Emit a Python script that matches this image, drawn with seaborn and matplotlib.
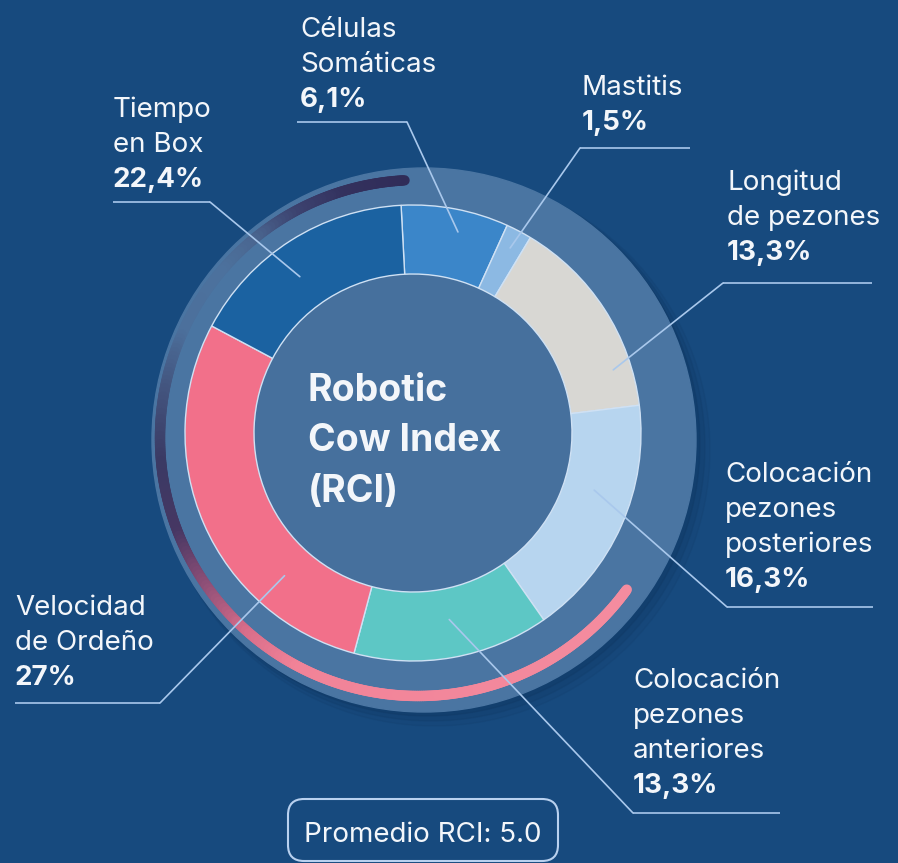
import numpy as np
import matplotlib
matplotlib.use('Agg')
import matplotlib.pyplot as plt
import seaborn as sns
from matplotlib.patches import Circle, FancyBboxPatch
from matplotlib.collections import LineCollection
from matplotlib.colors import LinearSegmentedColormap

# data
categories = ['Células\nSomáticas', 'Mastitis', 'Longitud\nde pezones',
              'Colocación\npezones\nposteriores', 'Colocación\npezones\nanteriores',
              'Velocidad\nde Ordeño', 'Tiempo\nen Box']
pct_values = [6.1, 1.5, 13.3, 16.3, 13.3, 27.0, 22.4]
# ring slices as they are drawn in the picture (degrees of arc)
drawn_share = [27.4, 6.6, 52, 62, 50, 103, 59]
ring_colors = ['#3b86c9', '#8cb9e3', '#d8d7d3', '#b7d5ef', '#5dc7c5', '#f2708a', '#1b62a1']
center_title = ['Robotic', 'Cow Index', '(RCI)']
promedio_rci = 5.0

sns.set_style('white')
plt.rcParams['font.family'] = ['Inter', 'DejaVu Sans']

W, H = 898, 863
BG = '#174a7e'
TXT = '#f3f6fa'
LEAD = '#a9c8ec'

fig = plt.figure(figsize=(W / 100, H / 100), dpi=100, facecolor=BG)
ax = fig.add_axes([0, 0, 1, 1])
ax.set_facecolor(BG)

def py(y):
    return H - y

cx, cy = 413, py(433)

# outer disk + soft shadow
for off, rr, al in [(10, 276, 0.12), (7, 274, 0.18), (4, 272, 0.25)]:
    ax.add_patch(Circle((424 + off, py(440 + off)), rr, color='#0f355e', alpha=al, zorder=1))
ax.add_patch(Circle((424, py(440)), 272, color='#4a75a2', zorder=1))

# gradient arc (dark at the top, pink at the bottom)
stops = [(0.0, '#302c58'), (0.06, '#33315e'), (0.11, '#3c426f'), (0.16, '#4a6690'),
         (0.20, '#4c719d'), (0.27, '#4c709c'), (0.33, '#43557f'), (0.40, '#3a3a64'),
         (0.47, '#463763'), (0.53, '#8e4f77'), (0.59, '#d86d8a'), (0.65, '#f18398'),
         (1.0, '#f48c9f')]
arc_cmap = LinearSegmentedColormap.from_list('arc', stops)
th = np.radians(np.linspace(93, 324, 500))
arc_x, arc_y = 418 + 258 * np.cos(th), py(438) + 258 * np.sin(th)
pts = np.column_stack([arc_x, arc_y]).reshape(-1, 1, 2)
segs = np.concatenate([pts[:-1], pts[1:]], axis=1)
lc = LineCollection(segs, colors=arc_cmap(np.linspace(0, 1, len(segs))),
                    linewidths=7.5, capstyle='round', zorder=2)
ax.add_collection(lc)

# inner circle
ax.add_patch(Circle((cx, cy), 159, color='#46709d', zorder=2))

# ring
ax.pie(drawn_share, radius=228, center=(cx, cy), startangle=93, counterclock=False,
       colors=ring_colors, frame=True,
       wedgeprops=dict(width=69, edgecolor='#cfe1f4', linewidth=1.0, zorder=3))

# label layout: text left, first baseline, horizontal line span & y, elbow x, anchor angle/radius
layout = [
    (300, 37, 297, 407, 122, 407, 77.4, 206),
    (582, 95, 580, 690, 148, 580, 62.3, 209),
    (727, 190, 723, 872, 283, 723, 17.5, 210),
    (725, 482, 727, 873, 607, 727, -17.5, 190),
    (633, 688, 633, 780, 813, 633, -79, 190),
    (15, 615, 15, 160, 703, 160, -132, 192),
    (113, 117, 113, 210, 202, 210, 125.9, 193),
]

for name, val, lay in zip(categories, pct_values, layout):
    tx, ty, hx0, hx1, hy, ex, ang, r = lay
    a = np.radians(ang)
    axp, ayp = cx + r * np.cos(a), cy + r * np.sin(a)
    ax.plot([hx0, hx1], [py(hy), py(hy)], color=LEAD, lw=1.2, zorder=4, solid_capstyle='butt')
    ax.plot([ex, axp], [py(hy), ayp], color=LEAD, lw=1.2, zorder=4)
    pct = f'{val:.1f}'.rstrip('0').rstrip('.').replace('.', ',') + '%'
    lines = name.split('\n') + [pct]
    for i, s in enumerate(lines):
        ax.text(tx, py(ty + i * 35), s, fontsize=20, color=TXT, va='baseline', ha='left',
                weight='bold' if i == len(lines) - 1 else 'normal', zorder=5)

# center title
for i, s in enumerate(center_title):
    ax.text(308, py(401 + i * 50.5), s, fontsize=27, color=TXT, weight='bold',
            va='baseline', ha='left', zorder=5)

# promedio box
ax.add_patch(FancyBboxPatch((288, py(861)), 270, 62, boxstyle='round,pad=0,rounding_size=16',
                            fc='none', ec='#b9d1ef', lw=1.5, zorder=4))
ax.text(423, py(842), f'Promedio RCI: {promedio_rci:.1f}', fontsize=20, color=TXT,
        ha='center', va='baseline', zorder=5)

ax.set_xlim(0, W)
ax.set_ylim(0, H)
ax.set_aspect('equal')
ax.axis('off')
fig.savefig('out.png', dpi=100, facecolor=BG)
